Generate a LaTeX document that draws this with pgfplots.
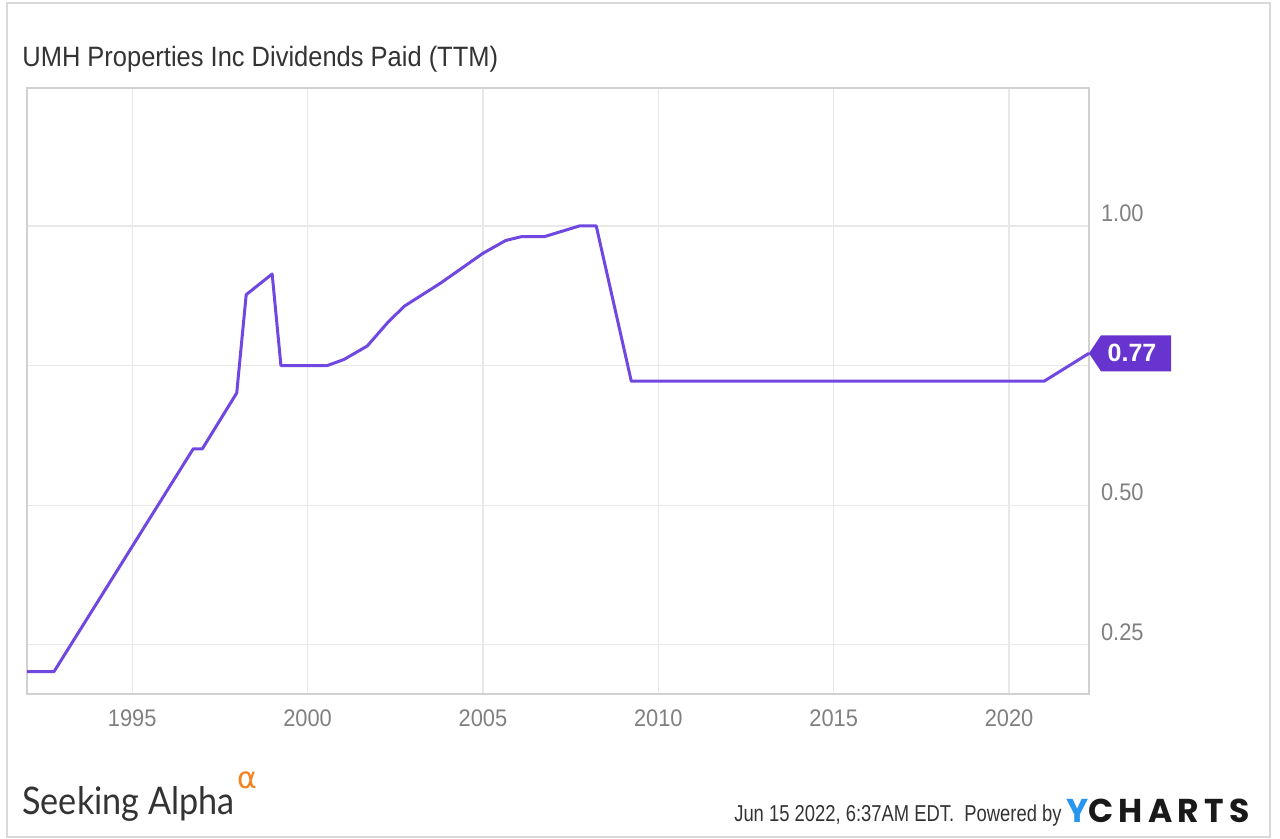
\documentclass[border=0pt]{standalone}
\usepackage{fontspec}
\setmainfont{Liberation Sans}
\newfontfamily\condfont[FakeStretch=0.91]{Liberation Sans}
\newfontfamily\narrowfont[FakeStretch=0.8]{Liberation Sans}
\newfontfamily\logofont[FakeStretch=0.9]{Lato}
\newfontfamily\symfont{DejaVu Sans}
\newfontfamily\ychfont[LetterSpace=16]{Poppins}
\usepackage{pgfplots}
\pgfplotsset{compat=1.18}
\definecolor{LinePurple}{RGB}{112,72,225}
\definecolor{TagPurple}{RGB}{104,52,208}
\definecolor{TickGray}{RGB}{128,128,128}
\definecolor{TitleGray}{RGB}{51,51,51}
\definecolor{SAOrange}{RGB}{245,130,32}
\definecolor{YBlue}{RGB}{40,150,240}

\begin{document}
\begin{tikzpicture}
  \useasboundingbox (0,0) rectangle (640pt,419.5pt);
  \draw[black!15, line width=0.8pt] (3.5pt,1pt) rectangle (635pt,418pt);
  \node[anchor=base west, inner sep=0, text=TitleGray,
        font=\condfont\fontsize{14}{16}\selectfont] at (11pt,386pt)
        {UMH Properties Inc Dividends Paid (TTM)};

  \begin{axis}[
      at={(13.5pt,72.5pt)}, anchor=south west,
      scale only axis, width=531pt, height=303pt,
      xmin=1992, xmax=2022.28,
      ymin=0.162, ymax=1.247,
      axis line style={draw=black!18, line width=0.6pt},
      grid=major,
      grid style={draw=black!9, line width=0.6pt},
      major tick length=0pt,
      xtick={1995,2000,2005,2010,2015,2020},
      xticklabels={1995,2000,2005,2010,2015,2020},
      ytick={0.25,0.5,0.75,1},
      yticklabels={0.25,0.50,,1.00},
      yticklabel pos=right,
      ticklabel style={font=\condfont\fontsize{12}{14}\selectfont, text=TickGray},
      xticklabel style={yshift=-4.5pt},
      yticklabel style={anchor=west, xshift=2.5pt, yshift=6.5pt},
      clip=false,
    ]
    \addplot[line width=1.5pt, color=LinePurple, line join=round] coordinates {
      (1992.00,0.202) (1992.77,0.202) (1996.74,0.601) (1997.00,0.601)
      (1997.98,0.701) (1998.25,0.877) (1998.99,0.914) (1999.24,0.750)
      (2000.56,0.750) (2001.04,0.761) (2001.70,0.785) (2002.27,0.826)
      (2002.75,0.856) (2003.80,0.898) (2005.00,0.951) (2005.65,0.974)
      (2006.11,0.981) (2006.76,0.981) (2007.75,1.000) (2008.23,1.000)
      (2009.23,0.722) (2021.00,0.722) (2022.28,0.772)
    };
    \coordinate (tip) at (axis cs:2022.28,0.772);
  \end{axis}

  \fill[TagPurple] (tip) -- ++(6pt,9pt) -- ++(35pt,0)
    -- ++(0,-18pt) -- ++(-35pt,0) -- cycle;
  \node[text=white, font=\bfseries\fontsize{12.5}{14}\selectfont, inner sep=0]
    at ([xshift=21.5pt]tip) {0.77};

  \node[anchor=base west, inner sep=0, text=TitleGray,
        font=\logofont\fontsize{19}{22}\selectfont] at (11pt,12pt) {Seeking Alpha};
  \node[anchor=base west, inner sep=0, text=SAOrange,
        font=\symfont\fontsize{15}{18}\selectfont] at (118.5pt,25pt) {α};

  \node[anchor=base east, inner sep=0, text=TitleGray,
        font=\narrowfont\fontsize{11.5}{13}\selectfont] at (531pt,8.5pt)
        {Jun 15 2022, 6:37AM EDT.\ \ Powered by};
  \node[anchor=base west, inner sep=0,
        font=\ychfont\bfseries\fontsize{16.5}{18}\selectfont] at (533pt,8pt)
        {\textcolor{YBlue}{Y}\textcolor{black!90}{CHARTS}};
\end{tikzpicture}
\end{document}
